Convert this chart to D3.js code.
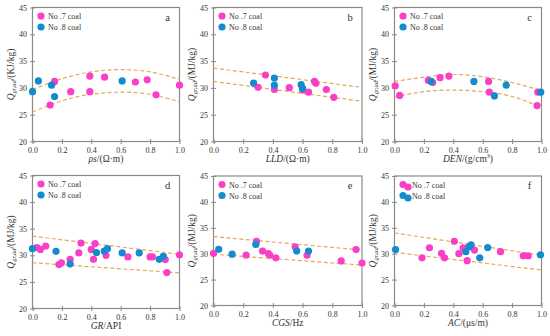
<!DOCTYPE html>
<html>
<head>
<meta charset="utf-8">
<script src="https://cdn.jsdelivr.net/npm/d3@7"></script>
<style>
  body { margin: 0; background: #fff; }
  text { font-family: 'Liberation Serif', 'Times New Roman', serif; fill: #333; }
</style>
</head>
<body>
<svg id="chart" width="550" height="336"></svg>
<script>
const pink = '#fb3ec6';
const blue = '#138bcf';
const fitColor = '#e6a85c';
const frameColor = '#8a8a8a';

const xTicks = [0, 0.2, 0.4, 0.6, 0.8, 1.0];
const yTicks = [20, 25, 30, 35, 40, 45];
const seriesNames = ['No .7 coal', 'No .8 coal'];

// a: resistivity
const rhoNo7 = [[0.12, 26.8], [0.15, 31.2], [0.26, 29.3], [0.39, 32.2], [0.39, 29.3], [0.49, 32.0], [0.70, 31.1], [0.78, 31.5], [0.84, 28.7], [1.0, 30.5]];
const rhoNo8 = [[0.0, 29.3], [0.04, 31.3], [0.13, 30.5], [0.15, 28.4], [0.61, 31.3]];
const rhoUpper = [[0, 29.7], [0.2, 31.7], [0.4, 33.0], [0.6, 33.4], [0.8, 33.0], [1.0, 31.6]];
const rhoLower = [[0, 25.5], [0.2, 27.6], [0.4, 28.8], [0.6, 29.2], [0.8, 28.8], [1.0, 27.4]];

// b: LLD
const lldNo7 = [[0.30, 30.1], [0.35, 32.4], [0.41, 29.7], [0.51, 30.05], [0.60, 29.6], [0.64, 29.2], [0.68, 31.2], [0.69, 30.85], [0.76, 29.7], [0.81, 28.25]];
const lldNo8 = [[0.27, 30.9], [0.41, 31.85], [0.41, 30.5], [0.59, 30.6], [0.60, 29.9]];
const lldUpper = [[0, 33.7], [1.0, 30.1]];
const lldLower = [[0, 31.2], [1.0, 27.5]];

// c: DEN
const denNo7 = [[0.005, 30.4], [0.035, 28.6], [0.23, 31.4], [0.26, 31.0], [0.31, 31.9], [0.37, 32.2], [0.64, 31.2], [0.645, 29.2], [0.97, 26.7], [0.975, 29.2]];
const denNo8 = [[0.25, 31.2], [0.54, 31.2], [0.68, 28.5], [0.76, 30.5], [0.995, 29.2]];
const denUpper = [[0, 31.2], [0.2, 32.0], [0.4, 32.5], [0.6, 32.1], [0.8, 31.0], [1.0, 29.5]];
const denLower = [[0, 28.3], [0.2, 29.3], [0.4, 29.6], [0.6, 29.3], [0.8, 28.4], [1.0, 26.3]];

// d: GR
const grNo7 = [[0.03, 31.45], [0.054, 31.1], [0.09, 31.75], [0.18, 28.25], [0.197, 28.6], [0.256, 29.25], [0.315, 30.45], [0.33, 32.3], [0.40, 31.1], [0.415, 29.25], [0.426, 32.2], [0.50, 30.0], [0.649, 29.7], [0.80, 29.7], [0.816, 29.7], [0.903, 29.2], [0.914, 26.75], [1.0, 30.1]];
const grNo8 = [[0.0, 31.25], [0.16, 30.75], [0.256, 28.4], [0.435, 30.5], [0.488, 30.8], [0.51, 31.25], [0.61, 30.45], [0.726, 30.45], [0.862, 29.25], [0.89, 29.8]];
const grUpper = [[0, 33.6], [1.0, 30.2]];
const grLower = [[0, 28.6], [1.0, 26.7]];

// e: CGS
const cgsNo7 = [[0.0, 30.05], [0.22, 29.75], [0.29, 32.4], [0.33, 30.5], [0.37, 30.0], [0.38, 29.7], [0.42, 29.2], [0.55, 31.3], [0.63, 29.7], [0.86, 28.6], [0.96, 30.8], [1.0, 28.2]];
const cgsNo8 = [[0.035, 30.85], [0.125, 29.9], [0.285, 31.8], [0.56, 30.5], [0.64, 30.5]];
const cgsUpper = [[0, 33.3], [1.0, 30.7]];
const cgsLower = [[0, 29.9], [1.0, 27.8]];

// f: AC
const acNo7 = [[0.187, 29.2], [0.238, 31.15], [0.32, 30.05], [0.34, 29.2], [0.407, 32.4], [0.438, 30.0], [0.467, 31.15], [0.494, 28.65], [0.544, 30.7], [0.721, 30.4], [0.876, 29.6], [0.91, 29.6]];
const acNo8 = [[0.007, 30.8], [0.485, 30.4], [0.508, 31.35], [0.521, 31.7], [0.58, 29.2], [0.634, 31.2], [0.993, 29.8]];
const acUpper = [[0, 34.0], [1.0, 29.7]];
const acLower = [[0, 30.25], [1.0, 26.85]];

const panels = [
  { letter: 'a', x0: 32.5, x1: 179.5, y0: 7.5, y1: 141.5, unit: 'KJ/kg', varName: 'ρs', unitX: '/(Ω·m)', no7: rhoNo7, no8: rhoNo8, fits: [rhoUpper, rhoLower], curved: true },
  { letter: 'b', x0: 213.5, x1: 362, y0: 7.5, y1: 141.5, unit: 'MJ/kg', varName: 'LLD', unitX: '/(Ω·m)', no7: lldNo7, no8: lldNo8, fits: [lldUpper, lldLower] },
  { letter: 'c', x0: 394.5, x1: 541.5, y0: 7.5, y1: 141.5, unit: 'MJ/kg', varName: 'DEN', unitX: '/(g/cm', sup: '3', no7: denNo7, no8: denNo8, fits: [denUpper, denLower], curved: true },
  { letter: 'd', x0: 32.5, x1: 179.5, y0: 175.5, y1: 308.5, unit: 'MJ/kg', varName: 'GR', unitX: '/API', no7: grNo7, no8: grNo8, fits: [grUpper, grLower] },
  { letter: 'e', x0: 213.5, x1: 362, y0: 176, y1: 305.5, unit: 'MJ/kg', varName: 'CGS', unitX: '/Hz', no7: cgsNo7, no8: cgsNo8, fits: [cgsUpper, cgsLower] },
  { letter: 'f', x0: 394.5, x1: 541.5, y0: 176, y1: 305.5, unit: 'MJ/kg', varName: 'AC', unitX: '/(μs/m)', no7: acNo7, no8: acNo8, fits: [acUpper, acLower], oddLegend: true }
];

const svg = d3.select('#chart');

panels.forEach(drawPanel);

function drawPanel(p) {
  const x = d3.scaleLinear().domain([0, 1]).range([p.x0, p.x1]);
  const y = d3.scaleLinear().domain([20, 45]).range([p.y1, p.y0]);
  const g = svg.append('g');

  // frame
  g.append('rect')
    .attr('x', p.x0).attr('y', p.y0)
    .attr('width', p.x1 - p.x0).attr('height', p.y1 - p.y0)
    .attr('fill', 'none').attr('stroke', frameColor).attr('stroke-width', 1.2);

  // axes
  const xAxis = g.append('g')
    .attr('transform', `translate(0,${p.y1})`)
    .call(d3.axisBottom(x).tickValues(xTicks).tickFormat(d3.format('.1f')).tickSize(2.5).tickPadding(3));
  const yAxis = g.append('g')
    .attr('transform', `translate(${p.x0},0)`)
    .call(d3.axisLeft(y).tickValues(yTicks).tickSize(2.5).tickPadding(3));
  [xAxis, yAxis].forEach(ax => {
    ax.select('.domain').remove();
    ax.selectAll('line').attr('stroke', frameColor);
    ax.selectAll('text').attr('font-size', 8).attr('fill', '#444')
      .style('font-family', "'Liberation Serif', serif");
  });
  // ticks cross the axis line
  xAxis.selectAll('line').attr('y1', -2.5);
  yAxis.selectAll('line').attr('x1', 2.5);

  // fit lines
  const line = d3.line()
    .x(d => x(d[0]))
    .y(d => y(d[1]))
    .curve(p.curved ? d3.curveNatural : d3.curveLinear);
  g.selectAll('path.fit')
    .data(p.fits)
    .enter()
    .append('path')
    .attr('class', 'fit')
    .attr('d', line)
    .attr('fill', 'none')
    .attr('stroke', fitColor)
    .attr('stroke-width', 1.2)
    .attr('stroke-dasharray', '4,2.5');

  // points
  g.selectAll('circle.no7')
    .data(p.no7)
    .enter()
    .append('circle')
    .attr('cx', d => x(d[0]))
    .attr('cy', d => y(d[1]))
    .attr('r', 3.6)
    .attr('fill', pink);
  g.selectAll('circle.no8')
    .data(p.no8)
    .enter()
    .append('circle')
    .attr('cx', d => x(d[0]))
    .attr('cy', d => y(d[1]))
    .attr('r', 3.6)
    .attr('fill', blue);

  // legend
  const lx = p.x0 + 8.5;
  const ly = p.y0 + 8.5;
  [pink, blue].forEach((c, i) => {
    g.append('circle').attr('cx', lx).attr('cy', ly + i * 11).attr('r', 3.6).attr('fill', c);
    if (p.oddLegend) {
      g.append('circle').attr('cx', lx + 5).attr('cy', ly + i * 11 + 2.5).attr('r', 3.6).attr('fill', c);
    }
    g.append('text')
      .attr('x', lx + (p.oddLegend ? 9 : 7))
      .attr('y', ly + i * 11 + 3)
      .attr('font-size', 8)
      .attr('fill', '#333')
      .text(seriesNames[i]);
  });

  // panel letter
  g.append('text')
    .attr('x', p.x1 - 12)
    .attr('y', p.y0 + 13)
    .attr('font-size', 10.5)
    .attr('text-anchor', 'middle')
    .text(p.letter);

  // x title
  const xt = g.append('text')
    .attr('x', (p.x0 + p.x1) / 2)
    .attr('y', p.y1 + 20)
    .attr('font-size', 9.5)
    .attr('text-anchor', 'middle');
  xt.append('tspan').attr('font-style', 'italic').text(p.varName);
  xt.append('tspan').text(p.unitX);
  if (p.sup) {
    xt.append('tspan').attr('font-size', 6).attr('dy', -3.5).text(p.sup);
    xt.append('tspan').attr('dy', 3.5).text(')');
  }

  // y title
  const yt = g.append('text')
    .attr('transform', `translate(${p.x0 - 19},${(p.y0 + p.y1) / 2}) rotate(-90)`)
    .attr('font-size', 9.5)
    .attr('text-anchor', 'middle');
  yt.append('tspan').attr('font-style', 'italic').text('Q');
  yt.append('tspan').attr('font-style', 'italic').attr('font-size', 6.5).attr('dy', 2.5).text('gr,ad');
  yt.append('tspan').attr('dy', -2.5).text('/(' + p.unit + ')');
}
</script>
</body>
</html>
